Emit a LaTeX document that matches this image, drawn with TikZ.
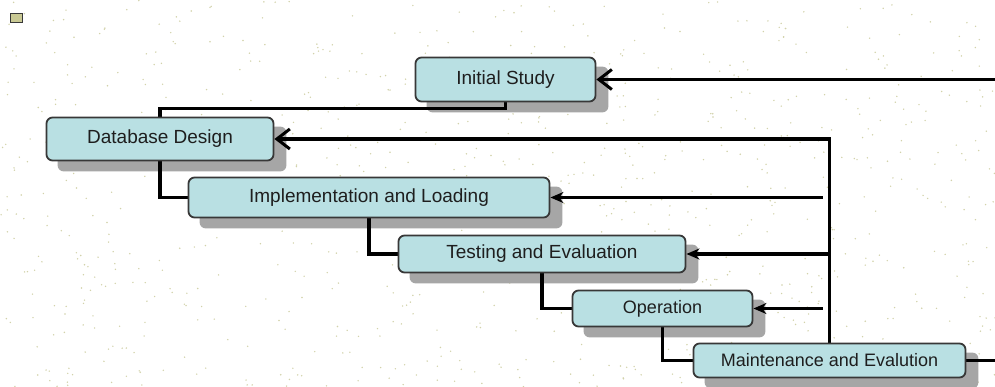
\documentclass[tikz,border=0pt]{standalone}
\usepackage{fontspec}
\setmainfont{Liberation Sans}
\usetikzlibrary{arrows.meta}
\pgfdeclarelayer{speckle}
\pgfdeclarelayer{shade}
\pgfdeclarelayer{links}
\pgfsetlayers{speckle,shade,links,main}
\definecolor{boxfill}{HTML}{B9E0E3}
\definecolor{boxline}{HTML}{383838}
\definecolor{shadefill}{HTML}{A6A6A6}
\definecolor{speck}{HTML}{D2D2AA}
\definecolor{txt}{HTML}{1E1E1E}
\definecolor{marker}{HTML}{C9C994}
\tikzset{
  stage/.style={draw=boxline, fill=boxfill, line width=1.8pt, rounded corners=6pt,
    inner sep=0pt, text=txt, font=\fontsize{19}{22}\selectfont},
  smalltext/.style={font=\fontsize{18}{21}\selectfont},
  link/.style={line width=3.2pt, black},
  barb/.style={link, -{Straight Barb[length=13pt,width=20pt,line width=3pt]}},
  tri/.style={link, -{Stealth[length=13pt,width=11pt]}},
  shadow/.style={fill=shadefill, rounded corners=6pt}
}
\begin{document}
\begin{tikzpicture}[x=1pt, y=-1pt]
\useasboundingbox (0,0) rectangle (995,387);

% paper with fine speckles
\begin{pgfonlayer}{speckle}
  \fill[white] (0,0) rectangle (995,387);
  \pgfmathsetseed{42}
  \foreach \i in {1,...,900}{
    \pgfmathsetmacro\sx{995*rnd}
    \pgfmathsetmacro\sy{387*rnd}
    \fill[speck] (\sx,\sy) circle (0.8pt);
  }
\end{pgfonlayer}

% corner marker
\node (mark) [draw=boxline, fill=marker, line width=1pt, minimum width=12pt,
  minimum height=9pt, inner sep=0pt] at (16.5,18) {};

% phase boxes
\node (is) [stage, minimum width=180pt, minimum height=44pt] at (505.5,79.5) {Initial Study};
\node (dd) [stage, minimum width=227pt, minimum height=43pt] at (160,139) {Database Design};
\node (il) [stage, minimum width=361pt, minimum height=40pt] at (369,197.5) {Implementation and Loading};
\node (te) [stage, minimum width=287pt, minimum height=37pt] at (542,254) {Testing and Evaluation};
\node (op) [stage, smalltext, minimum width=180pt, minimum height=36pt] at (662.5,308.5) {Operation};
\node (mt) [stage, smalltext, minimum width=272pt, minimum height=34pt] at (829.5,360.5) {Maintenance and Evalution};

% drop shadows
\begin{pgfonlayer}{shade}
  \foreach \n in {is,dd,il,te,op,mt}{
    \fill[shadow] ([shift={(12,10)}]\n.south west) rectangle ([shift={(12,10)}]\n.north east);
  }
\end{pgfonlayer}

% free ends of the feedback lines
\coordinate (edge) at (1000,0);
\coordinate (tap) at ([xshift=-7pt]mt.north);

\begin{pgfonlayer}{links}
  % forward flow
  \draw[link] (is.south) -- ++(0,6) -| (dd.north);
  \draw[link] (dd.south) |- (il.west);
  \draw[link] (il.south) |- (te.west);
  \draw[link] (te.south) |- (op.west);
  \draw[link] (op.south) |- (mt.west);
  % feedback loops
  \draw[link] (mt.east) -- (mt.east -| edge);
  \draw[barb] (is.east -| edge) -- (is.east);
  \draw[barb] (mt.north) |- (dd.east);
  \draw[tri] (tap |- il.east) -- (il.east);
  \draw[tri] (mt.north |- te.east) -- (te.east);
  \draw[tri] (tap |- op.east) -- (op.east);
\end{pgfonlayer}
\end{tikzpicture}
\end{document}
